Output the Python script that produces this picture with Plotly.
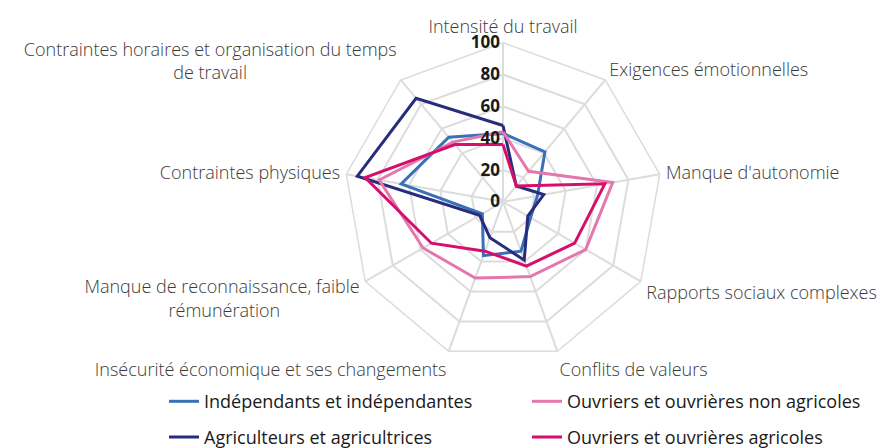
import plotly.graph_objects as go

NB = "\u00a0"

categories = [
    "Intensité du travail",
    "Exigences émotionnelles",
    "Manque d'autonomie",
    "Rapports sociaux complexes",
    "Conflits de valeurs",
    "Insécurité économique et ses changements",
    "Manque de reconnaissance, faible<br>rémunération" + NB * 17,
    "Contraintes physiques",
    "Contraintes horaires et organisation du temps<br>de travail" + NB * 32,
]

independants = [43, 41, 22, 20, 33, 36, 15, 65, 53]
agriculteurs = [48, 13, 26, 18, 39, 24, 17, 93, 85]
ouvriers_non_agricoles = [44, 25, 70, 60, 50, 51, 58, 79, 49]
ouvriers_agricoles = [36, 13, 65, 52, 43, 33, 52, 88, 47]

radial_ticks = [0, 20, 40, 60, 80, 100]

series = [
    ("Indépendants et indépendantes", independants, "#3a70b8", "legend"),
    ("Agriculteurs et agricultrices", agriculteurs, "#272d7c", "legend2"),
    ("Ouvriers et ouvrières non agricoles", ouvriers_non_agricoles, "#e677ad", "legend"),
    ("Ouvriers et ouvrières agricoles", ouvriers_agricoles, "#d60f6c", "legend2"),
]

fig = go.Figure()
for name, vals, color, leg in series:
    fig.add_trace(go.Scatterpolar(
        r=vals + vals[:1],
        theta=categories + categories[:1],
        mode="lines",
        name=name,
        line=dict(color=color, width=3),
        legend=leg,
    ))

W, H = 888, 448
cx, cy, R = 495, 201, 165
FONT = "Open Sans"

fig.update_layout(
    width=W, height=H,
    margin=dict(l=0, r=0, t=0, b=0),
    paper_bgcolor="white",
    plot_bgcolor="white",
    font=dict(family=FONT, size=18, color="#3a3a3a", weight=300),
    polar=dict(
        domain=dict(x=[(cx - R) / W, (cx + R) / W], y=[(H - cy - R) / H, (H - cy + R) / H]),
        gridshape="linear",
        bgcolor="white",
        radialaxis=dict(
            range=[0, 100],
            tickvals=radial_ticks,
            ticksuffix=NB * 3,
            angle=90,
            tickangle=90,
            side="counterclockwise",
            showline=False,
            ticks="",
            gridcolor="#dcdcdc",
            gridwidth=1.5,
            tickfont=dict(family=FONT, size=17, color="#1a1a1a", weight=700),
        ),
        angularaxis=dict(
            direction="clockwise",
            rotation=90,
            linecolor="#dcdcdc",
            linewidth=1.5,
            gridcolor="#dcdcdc",
            gridwidth=1.5,
            ticks="outside",
            ticklen=2,
            tickcolor="rgba(0,0,0,0)",
            tickfont=dict(family=FONT, size=18, color="#3a3a3a", weight=300),
        ),
    ),
    legend=dict(
        orientation="h", x=156 / W, y=(H - 389) / H, xanchor="left", yanchor="top",
        entrywidth=318, entrywidthmode="pixels",
        font=dict(family=FONT, size=18, color="#1a1a1a", weight=400),
        bgcolor="rgba(0,0,0,0)",
    ),
    legend2=dict(
        orientation="h", x=156 / W, y=(H - 426) / H, xanchor="left", yanchor="top",
        entrywidth=318, entrywidthmode="pixels",
        font=dict(family=FONT, size=18, color="#1a1a1a", weight=400),
        bgcolor="rgba(0,0,0,0)",
    ),
)

fig.write_html("out.html")
